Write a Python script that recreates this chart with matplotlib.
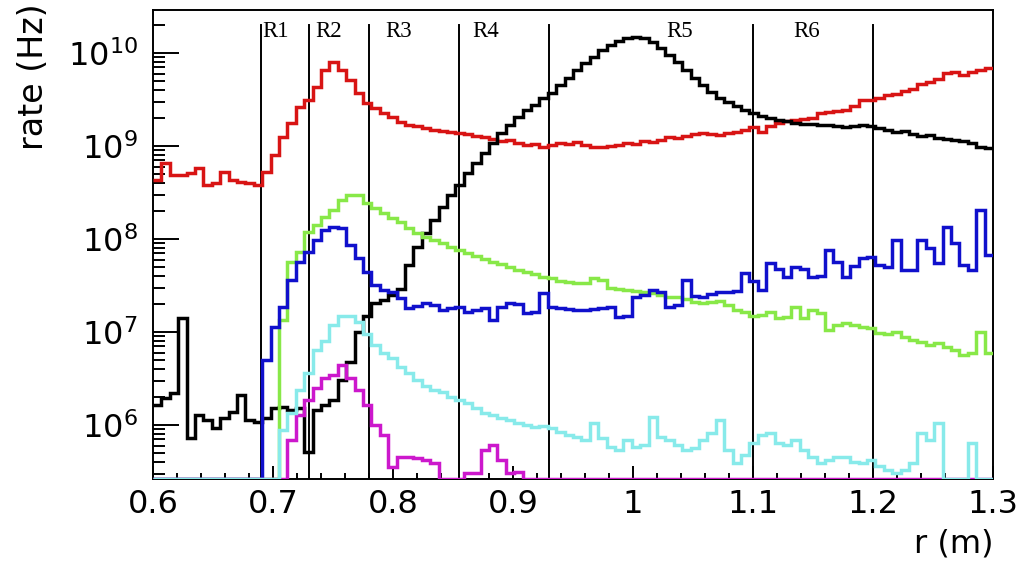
import numpy as np
import matplotlib
matplotlib.use("Agg")
import matplotlib.pyplot as plt
from matplotlib.ticker import MultipleLocator, LogLocator, NullFormatter, FuncFormatter

# ── binning / ranges ────────────────────────────────────────────────────────
R_MIN, R_MAX, N_BINS = 0.6, 1.3, 100
YMIN, YMAX = 2.62e5, 2.9e10

# region boundaries (m) and labels
BOUNDARIES = [0.69, 0.73, 0.78, 0.855, 0.93, 1.10, 1.20]
REGION_LABELS = ["R1", "R2", "R3", "R4", "R5", "R6"]
REGION_LABEL_X = [0.7025, 0.746, 0.805, 0.877, 1.039, 1.145]

# ── rates per bin (Hz), 100 bins from 0.6 to 1.3 m; 0 = empty bin ──────────
RED = [
    4.3e8, 6.6e8, 4.9e8, 4.9e8, 5.1e8, 5.8e8, 3.8e8, 4.0e8, 5.2e8, 4.3e8,
    4.1e8, 4.0e8, 3.8e8, 5.2e8, 8.0e8, 1.25e9, 1.77e9, 2.6e9, 3.1e9, 4.3e9,
    6.6e9, 8.0e9, 6.6e9, 5.1e9, 3.7e9, 2.9e9, 2.57e9, 2.26e9, 2.05e9, 1.81e9,
    1.68e9, 1.64e9, 1.56e9, 1.49e9, 1.45e9, 1.42e9, 1.38e9, 1.35e9, 1.28e9, 1.25e9,
    1.19e9, 1.14e9, 1.16e9, 1.08e9, 1.03e9, 1.05e9, 9.8e8, 1.03e9, 1.08e9, 1.05e9,
    1.1e9, 1.03e9, 9.8e8, 9.8e8, 1.0e9, 1.03e9, 1.08e9, 1.05e9, 1.14e9, 1.1e9,
    1.16e9, 1.25e9, 1.22e9, 1.28e9, 1.35e9, 1.38e9, 1.35e9, 1.31e9, 1.38e9, 1.42e9,
    1.49e9, 1.6e9, 1.42e9, 1.64e9, 1.77e9, 1.86e9, 1.9e9, 1.95e9, 2.0e9, 2.26e9,
    2.32e9, 2.38e9, 2.44e9, 2.7e9, 3.1e9, 3.1e9, 3.3e9, 3.5e9, 3.6e9, 3.9e9,
    4.1e9, 4.6e9, 4.9e9, 5.3e9, 6.1e9, 6.3e9, 5.8e9, 6.3e9, 6.6e9, 6.9e9,
]
BLACK = [
    1.64e6, 1.95e6, 2.2e6, 1.42e7, 7.2e5, 1.28e6, 1.13e6, 9.3e5, 1.19e6, 1.38e6,
    2.1e6, 1.13e6, 1.08e6, 1.19e6, 1.52e6, 1.56e6, 1.45e6, 1.52e6, 5.1e5, 1.45e6,
    1.64e6, 1.86e6, 3.05e6, 4.7e6, 1.0e7, 1.5e7, 2.05e7, 2.2e7, 2.5e7, 2.9e7,
    5.2e7, 8.2e7, 1.16e8, 1.6e8, 2.21e8, 2.97e8, 3.8e8, 5.1e8, 6.6e8, 8.4e8,
    1.08e9, 1.38e9, 1.68e9, 2.05e9, 2.44e9, 2.76e9, 3.3e9, 3.7e9, 4.5e9, 5.4e9,
    6.6e9, 7.8e9, 9.1e9, 1.08e10, 1.22e10, 1.35e10, 1.45e10, 1.49e10, 1.45e10, 1.31e10,
    1.13e10, 9.5e9, 8.0e9, 6.6e9, 5.4e9, 4.5e9, 3.8e9, 3.3e9, 3.0e9, 2.7e9,
    2.44e9, 2.26e9, 2.1e9, 2.0e9, 1.9e9, 1.86e9, 1.77e9, 1.72e9, 1.72e9, 1.68e9,
    1.68e9, 1.64e9, 1.6e9, 1.64e9, 1.68e9, 1.64e9, 1.56e9, 1.49e9, 1.42e9, 1.45e9,
    1.35e9, 1.28e9, 1.31e9, 1.22e9, 1.19e9, 1.16e9, 1.14e9, 1.08e9, 9.8e8, 9.5e8,
]
GREEN = [
    0, 0, 0, 0, 0, 0, 0, 0, 0, 0,
    0, 0, 0, 0, 0, 1.35e7, 5.7e7, 7.3e7, 1.19e8, 1.42e8,
    1.73e8, 2.05e8, 2.6e8, 2.97e8, 2.97e8, 2.44e8, 2.16e8, 1.9e8, 1.68e8, 1.52e8,
    1.31e8, 1.16e8, 1.05e8, 9.8e7, 9.1e7, 8.2e7, 7.6e7, 7.1e7, 6.6e7, 6.1e7,
    5.7e7, 5.4e7, 5.0e7, 4.6e7, 4.4e7, 4.2e7, 3.9e7, 3.8e7, 3.55e7, 3.45e7,
    3.4e7, 3.4e7, 3.8e7, 3.6e7, 3.0e7, 2.9e7, 2.83e7, 2.75e7, 2.7e7, 2.6e7,
    2.5e7, 2.38e7, 2.38e7, 2.25e7, 2.1e7, 2.05e7, 2.1e7, 2.15e7, 1.95e7, 1.73e7,
    1.65e7, 1.5e7, 1.52e7, 1.65e7, 1.42e7, 1.45e7, 1.86e7, 1.42e7, 1.73e7, 1.6e7,
    1.05e7, 1.2e7, 1.25e7, 1.2e7, 1.13e7, 1.1e7, 9.8e6, 9.4e6, 1.0e7, 8.8e6,
    8.2e6, 7.8e6, 7.2e6, 7.6e6, 6.8e6, 6.4e6, 5.7e6, 6.0e6, 1.0e7, 5.9e6,
]
BLUE = [
    0, 0, 0, 0, 0, 0, 0, 0, 0, 0,
    0, 0, 0, 5.0e6, 1.13e7, 1.86e7, 3.6e7, 5.7e7, 7.3e7, 9.8e7,
    1.25e8, 1.35e8, 1.31e8, 8.6e7, 6.2e7, 4.4e7, 3.2e7, 2.83e7, 2.7e7, 2.3e7,
    1.8e7, 1.9e7, 2.05e7, 1.95e7, 1.73e7, 1.8e7, 1.86e7, 1.65e7, 1.7e7, 1.8e7,
    1.35e7, 1.86e7, 2.05e7, 2.0e7, 1.6e7, 1.65e7, 2.6e7, 1.86e7, 1.8e7, 1.77e7,
    1.73e7, 1.7e7, 1.77e7, 1.8e7, 1.86e7, 1.45e7, 1.5e7, 2.38e7, 2.5e7, 2.83e7,
    2.7e7, 1.86e7, 1.95e7, 3.6e7, 2.45e7, 2.38e7, 2.55e7, 2.7e7, 2.7e7, 2.75e7,
    4.3e7, 3.5e7, 2.83e7, 5.5e7, 4.8e7, 3.9e7, 5.0e7, 4.8e7, 3.9e7, 4.0e7,
    7.6e7, 5.7e7, 3.9e7, 5.1e7, 6.2e7, 6.4e7, 5.2e7, 5.0e7, 9.8e7, 4.6e7,
    4.6e7, 9.8e7, 8.0e7, 5.5e7, 1.35e8, 9.1e7, 5.2e7, 4.6e7, 2.05e8, 6.7e7,
]
CYAN = [
    0, 0, 0, 0, 0, 0, 0, 0, 0, 0,
    0, 0, 0, 0, 0, 8.8e5, 1.35e6, 2.38e6, 3.6e6, 6.4e6,
    8.0e6, 1.2e7, 1.5e7, 1.5e7, 1.28e7, 9.4e6, 7.3e6, 6.0e6, 5.3e6, 4.2e6,
    3.6e6, 3.05e6, 2.6e6, 2.38e6, 2.27e6, 2.0e6, 1.86e6, 1.7e6, 1.52e6, 1.35e6,
    1.28e6, 1.19e6, 1.13e6, 1.05e6, 1.0e6, 9.5e5, 9.8e5, 9.3e5, 8.4e5, 7.8e5,
    7.4e5, 6.9e5, 1.05e6, 7.2e5, 5.8e5, 5.4e5, 6.9e5, 5.8e5, 6.1e5, 1.22e6,
    7.5e5, 6.9e5, 6.1e5, 5.4e5, 5.7e5, 6.9e5, 8.2e5, 1.13e6, 5.4e5, 3.9e5,
    4.7e5, 6.4e5, 7.8e5, 8.2e5, 6.4e5, 6.1e5, 6.9e5, 5.4e5, 4.5e5, 3.9e5,
    4.2e5, 4.5e5, 4.5e5, 4.0e5, 3.9e5, 4.2e5, 3.6e5, 3.3e5, 3.05e5, 3.3e5,
    3.9e5, 8.2e5, 6.9e5, 1.05e6, 0, 0, 0, 6.4e5, 0, 0,
]
MAGENTA = [
    0, 0, 0, 0, 0, 0, 0, 0, 0, 0,
    0, 0, 0, 0, 0, 0, 6.9e5, 1.28e6, 1.86e6, 2.5e6,
    3.2e6, 3.45e6, 4.4e6, 3.2e6, 2.38e6, 1.64e6, 1.0e6, 7.8e5, 3.5e5, 4.5e5,
    4.5e5, 4.4e5, 4.2e5, 3.9e5, 0, 0, 0, 3.05e5, 3.05e5, 5.4e5,
    6.1e5, 4.2e5, 3.05e5, 3.1e5, 0, 0, 0, 0, 0, 0,
    0, 0, 0, 0, 0, 0, 0, 0, 0, 0,
    0, 0, 0, 0, 0, 0, 0, 0, 0, 0,
    0, 0, 0, 0, 0, 0, 0, 0, 0, 0,
    0, 0, 0, 0, 0, 0, 0, 0, 0, 0,
    0, 0, 0, 0, 0, 0, 0, 0, 0, 0,
]

SERIES = [
    (RED, "#d81414"),
    (BLACK, "#000000"),
    (GREEN, "#88e848"),
    (BLUE, "#1010cc"),
    (MAGENTA, "#cc18cc"),
    (CYAN, "#88eaea"),
]

edges = np.linspace(R_MIN, R_MAX, N_BINS + 1)

# ── figure ──────────────────────────────────────────────────────────────────
fig = plt.figure(figsize=(10.23, 5.61), dpi=100)
ax = fig.add_axes([0.1496, 0.1462, 0.8211, 0.836])

for vals, col in SERIES:
    v = np.asarray(vals, dtype=float)
    v = np.where(v > 0, v, YMIN)          # empty bins sit on the frame, ROOT-style
    ax.stairs(v, edges, baseline=None, color=col, lw=2.5, zorder=3)

# region boundaries + labels
for b in BOUNDARIES:
    ax.axvline(b, ymin=0, ymax=0.968, color="k", lw=1.4, zorder=2)
for lab, x in zip(REGION_LABELS, REGION_LABEL_X):
    ax.text(x, 0.955, lab, transform=ax.get_xaxis_transform(),
            ha="center", va="center", fontsize=16.5, family="Liberation Serif")

ax.set_yscale("log")
ax.set_xlim(R_MIN, R_MAX)
ax.set_ylim(YMIN, YMAX)

ax.xaxis.set_major_locator(MultipleLocator(0.1))
ax.xaxis.set_minor_locator(MultipleLocator(0.02))
ax.xaxis.set_major_formatter(FuncFormatter(lambda v, _: f"{v:g}"))
ax.yaxis.set_minor_locator(LogLocator(base=10, subs=np.arange(2, 10), numticks=20))
ax.yaxis.set_minor_formatter(NullFormatter())

ax.tick_params(axis="x", which="major", direction="in", length=9.4, width=1.4,
               labelsize=23, pad=7, top=False)
ax.tick_params(axis="x", which="minor", direction="in", length=4.3, width=1.4, top=False)
ax.tick_params(axis="y", which="major", direction="in", length=18.7, width=1.4,
               labelsize=23, pad=11, right=False)
ax.tick_params(axis="y", which="minor", direction="in", length=8.6, width=1.4, right=False)

for s in ax.spines.values():
    s.set_linewidth(1.4)

ax.set_ylabel("rate (Hz)", fontsize=24)
ax.yaxis.set_label_coords(-0.131, 1.015)
ax.yaxis.label.set_ha("right")
ax.yaxis.label.set_va("baseline")

ax.set_xlabel("r (m)", fontsize=23)
ax.xaxis.set_label_coords(1.0, -0.156)
ax.xaxis.label.set_ha("right")
ax.xaxis.label.set_va("baseline")

fig.savefig("out.png", dpi=100)
